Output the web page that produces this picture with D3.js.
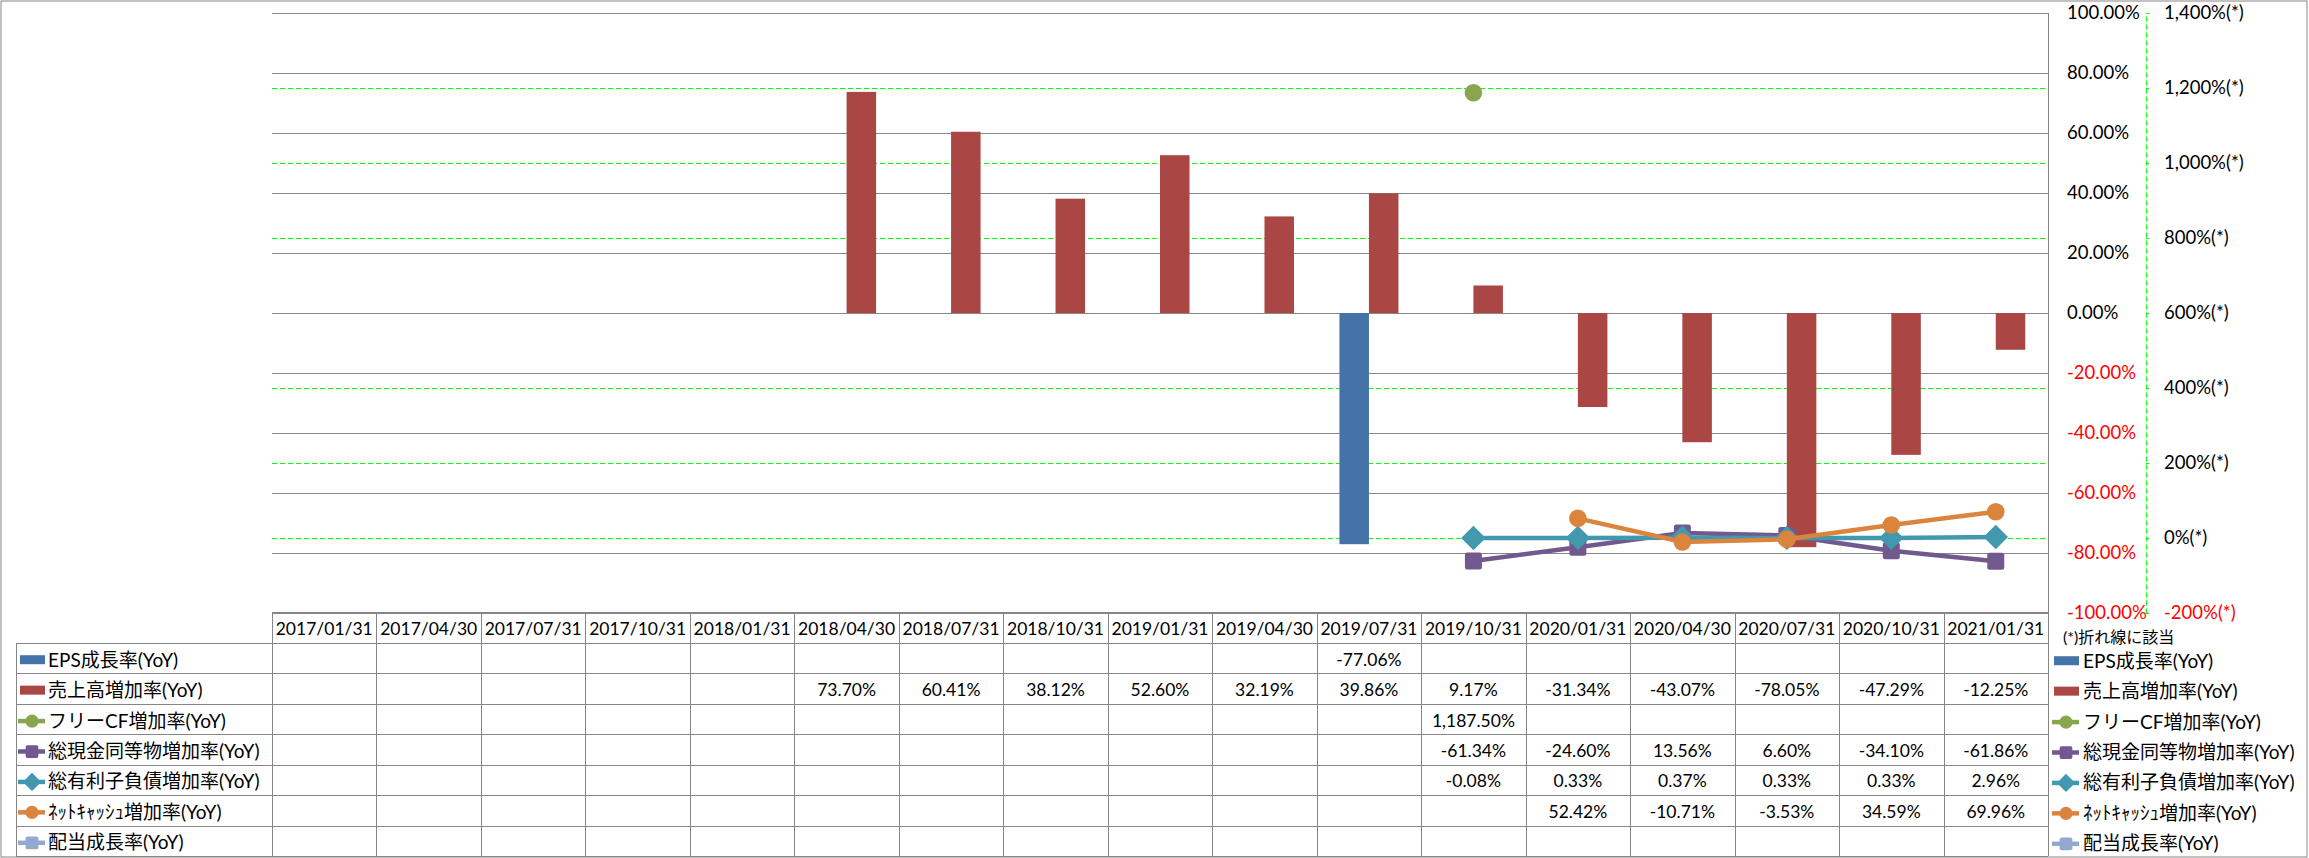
<!DOCTYPE html>
<html><head><meta charset="utf-8">
<script src="https://cdn.jsdelivr.net/npm/d3@7"></script>
<style>
body{margin:0;background:#fff}
text{font-family:"Lato","Noto Sans CJK JP",sans-serif;}
</style>
</head><body><svg id="c" width="2309" height="858"></svg>
<script>
const categories = ["2017/01/31","2017/04/30","2017/07/31","2017/10/31","2018/01/31","2018/04/30","2018/07/31","2018/10/31","2019/01/31","2019/04/30","2019/07/31","2019/10/31","2020/01/31","2020/04/30","2020/07/31","2020/10/31","2021/01/31"];
const epsGrowth      = [null,null,null,null,null,null,null,null,null,null,-77.06,null,null,null,null,null,null];
const salesGrowth    = [null,null,null,null,null,73.70,60.41,38.12,52.60,32.19,39.86,9.17,-31.34,-43.07,-78.05,-47.29,-12.25];
const fcfGrowth      = [null,null,null,null,null,null,null,null,null,null,null,1187.50,null,null,null,null,null];
const cashGrowth     = [null,null,null,null,null,null,null,null,null,null,null,-61.34,-24.60,13.56,6.60,-34.10,-61.86];
const debtGrowth     = [null,null,null,null,null,null,null,null,null,null,null,-0.08,0.33,0.37,0.33,0.33,2.96];
const netCashGrowth  = [null,null,null,null,null,null,null,null,null,null,null,null,52.42,-10.71,-3.53,34.59,69.96];
const dividendGrowth = [null,null,null,null,null,null,null,null,null,null,null,null,null,null,null,null,null];
const leftTicks  = [100,80,60,40,20,0,-20,-40,-60,-80,-100];
const rightTicks = [1400,1200,1000,800,600,400,200,0,-200];
const seriesNames = ["EPS成長率(YoY)","売上高増加率(YoY)","フリーCF増加率(YoY)","総現金同等物増加率(YoY)","総有利子負債増加率(YoY)","ﾈｯﾄｷｬｯｼｭ増加率(YoY)","配当成長率(YoY)"];
const noteText = "(*)折れ線に該当";

const series = [
  {name:seriesNames[0], values:epsGrowth, type:"bar", color:"#4572A7"},
  {name:seriesNames[1], values:salesGrowth, type:"bar", color:"#AA4643"},
  {name:seriesNames[2], values:fcfGrowth, type:"line", marker:"circle", color:"#89A54E"},
  {name:seriesNames[3], values:cashGrowth, type:"line", marker:"square", color:"#71588F"},
  {name:seriesNames[4], values:debtGrowth, type:"line", marker:"diamond", color:"#4198AF"},
  {name:seriesNames[5], values:netCashGrowth, type:"line", marker:"circle", color:"#DB843D"},
  {name:seriesNames[6], values:dividendGrowth, type:"line", marker:"square", color:"#93A9CF"}
];

const loc = d3.formatLocale({decimal:".", thousands:",", grouping:[3], currency:["",""], minus:"-"});
const fmt2 = loc.format(",.2f");
const fmtInt = loc.format(",");

const svg = d3.select("#c");
const W = 2309, H = 858;
const plotL = 272, plotR = 2048, plotT = 13, plotB = 613;
const gridColor = "#868686";

const x = d3.scaleBand().domain(categories).range([plotL, plotR]);
const yL = d3.scaleLinear().domain([-100,100]).range([plotB, plotT]);
const yR = d3.scaleLinear().domain([-200,1400]).range([plotB, plotT]);
const barSeries = series.filter(s=>s.type==="bar");
const groupW = x.bandwidth()*0.565;
const xb = d3.scaleBand().domain(barSeries.map(s=>s.name)).range([0, groupW]);
const cx = c => x(c) + x.bandwidth()/2;

// outer border
svg.append("rect").attr("x",1).attr("y",1).attr("width",W-3).attr("height",H-2)
  .attr("fill","#fff").attr("stroke",gridColor).attr("stroke-width",1);

// green dashed secondary grid
svg.append("g").selectAll("line").data(rightTicks.filter(t=>t!==600 && t!==1400 && t!==-200)).join("line")
  .attr("x1",plotL).attr("x2",plotR).attr("y1",d=>Math.round(yR(d))+0.5).attr("y2",d=>Math.round(yR(d))+0.5)
  .attr("stroke","#00FF00").attr("stroke-width",1).attr("stroke-dasharray","5,3");
// gray primary grid
svg.append("g").selectAll("line").data(leftTicks).join("line")
  .attr("x1",plotL).attr("x2",plotR).attr("y1",d=>Math.round(yL(d))+0.5).attr("y2",d=>Math.round(yL(d))+0.5)
  .attr("stroke",gridColor).attr("stroke-width",1);

// bars
const barG = svg.append("g");
barSeries.forEach(s=>{
  barG.selectAll(null).data(categories.map((c,i)=>({c,v:s.values[i]})).filter(d=>d.v!=null)).join("rect")
    .attr("x",d=>x(d.c)+x.bandwidth()/2-groupW/2+xb(s.name))
    .attr("width",xb.bandwidth())
    .attr("y",d=>Math.min(yL(d.v),yL(0)))
    .attr("height",d=>Math.abs(yL(d.v)-yL(0)))
    .attr("fill",s.color);
});

function drawMarker(g, type, color, px, py, scale){
  if(type==="circle"){
    g.append("circle").attr("cx",px).attr("cy",py).attr("r",8.8*scale).attr("fill",color);
  } else if(type==="square"){
    const s=17*scale;
    g.append("rect").attr("x",px-s/2).attr("y",py-s/2).attr("width",s).attr("height",s).attr("rx",2.5*scale).attr("fill",color);
  } else if(type==="diamond"){
    g.append("path").attr("d",d3.symbol(d3.symbolSquare, 300*scale*scale)())
      .attr("transform",`translate(${px},${py}) rotate(45)`).attr("fill",color);
  }
}

// lines
const lineG = svg.append("g");
series.filter(s=>s.type==="line").forEach(s=>{
  const pts = categories.map((c,i)=>({c,v:s.values[i]}));
  const line = d3.line().defined(d=>d.v!=null).x(d=>cx(d.c)).y(d=>yR(d.v));
  lineG.append("path").datum(pts).attr("d",line).attr("fill","none")
    .attr("stroke",s.color).attr("stroke-width",4.5).attr("stroke-linejoin","round");
  pts.filter(d=>d.v!=null).forEach(d=>drawMarker(lineG, s.marker, s.color, cx(d.c), yR(d.v), 1));
});

// primary axis (labels on right)
const axL = svg.append("g").attr("transform",`translate(${plotR},0)`)
  .call(d3.axisRight(yL).tickValues(leftTicks).tickSize(0).tickPadding(19).tickFormat(d=>fmt2(d)+"%"));
axL.select(".domain").remove();
axL.selectAll("text").attr("font-size",18.5).attr("font-family",'"Lato","Noto Sans CJK JP",sans-serif')
  .attr("fill",d=>d<0?"#FF0000":"#000");

// secondary axis
const axR = svg.append("g").attr("transform",`translate(2146,0)`)
  .call(d3.axisRight(yR).tickValues(rightTicks).tickSize(3).tickSizeOuter(0).tickPadding(15).tickFormat(d=>fmtInt(d)+"%(*)"));
axR.select(".domain").attr("stroke","#00FF00").attr("stroke-dasharray","5,3");
axR.selectAll(".tick line").attr("stroke","#00FF00");
axR.selectAll("text").attr("font-size",18.5).attr("font-family",'"Lato","Noto Sans CJK JP",sans-serif')
  .attr("fill",d=>d<0?"#FF0000":"#000");

// data table
const tableTop = 612, headerB = 643, tableB = 856, legL = 16;
const rowY = d3.scaleBand().domain(seriesNames).range([headerB, tableB]);
const tg = svg.append("g");
tg.append("line").attr("x1",plotL).attr("x2",plotR).attr("y1",tableTop+0.5).attr("y2",tableTop+0.5).attr("stroke",gridColor);
seriesNames.forEach(n=>{
  const yy = Math.round(rowY(n))+0.5;
  tg.append("line").attr("x1",legL).attr("x2",plotR).attr("y1",yy).attr("y2",yy).attr("stroke",gridColor);
});
tg.append("line").attr("x1",legL).attr("x2",plotR).attr("y1",tableB+0.5).attr("y2",tableB+0.5).attr("stroke",gridColor);
tg.append("line").attr("x1",legL+0.5).attr("x2",legL+0.5).attr("y1",headerB).attr("y2",tableB).attr("stroke",gridColor);
categories.forEach(c=>{
  const xx = Math.round(x(c))+0.5;
  tg.append("line").attr("x1",xx).attr("x2",xx).attr("y1",tableTop).attr("y2",tableB).attr("stroke",gridColor);
});
tg.append("line").attr("x1",plotR+0.5).attr("x2",plotR+0.5).attr("y1",plotT).attr("y2",tableB).attr("stroke",gridColor);

// header
tg.selectAll("text.h").data(categories).join("text").attr("class","h")
  .attr("x",d=>cx(d)).attr("y",(tableTop+headerB)/2+1).attr("text-anchor","middle")
  .attr("dominant-baseline","central").attr("font-size",17.5).attr("fill","#000").text(d=>d);

// values
const fmt = v => fmt2(v)+"%";
series.forEach(s=>{
  const yc = rowY(s.name)+rowY.bandwidth()/2+1;
  categories.forEach((c,i)=>{
    if(s.values[i]==null) return;
    tg.append("text").attr("x",cx(c)).attr("y",yc).attr("text-anchor","middle")
      .attr("dominant-baseline","central").attr("font-size",17.5).attr("fill","#000").text(fmt(s.values[i]));
  });
});

function legendKey(g, s, x0, yc){
  if(s.type==="bar"){
    g.append("rect").attr("x",x0).attr("y",yc-4).attr("width",25).attr("height",9).attr("fill",s.color);
  } else {
    g.append("line").attr("x1",x0-2).attr("x2",x0+25).attr("y1",yc+1).attr("y2",yc+1)
      .attr("stroke",s.color).attr("stroke-width",4.5);
    drawMarker(g, s.marker, s.color, x0+12, yc+1, 0.75);
  }
}

// table legend
series.forEach(s=>{
  const yc = rowY(s.name)+rowY.bandwidth()/2;
  legendKey(tg, s, 20, yc+1);
  tg.append("text").attr("x",48).attr("y",yc+1).attr("dominant-baseline","central")
    .attr("font-size",19).attr("fill","#000").text(s.name);
});

// right legend
const rl = svg.append("g");
rl.append("text").attr("x",2063).attr("y",636).attr("dominant-baseline","central")
  .attr("font-size",16).attr("fill","#000").text(noteText);
series.forEach(s=>{
  const yc = rowY(s.name)+rowY.bandwidth()/2+2;
  legendKey(rl, s, 2054, yc);
  rl.append("text").attr("x",2083).attr("y",yc).attr("dominant-baseline","central")
    .attr("font-size",19).attr("fill","#000").text(s.name);
});
</script></body></html>
